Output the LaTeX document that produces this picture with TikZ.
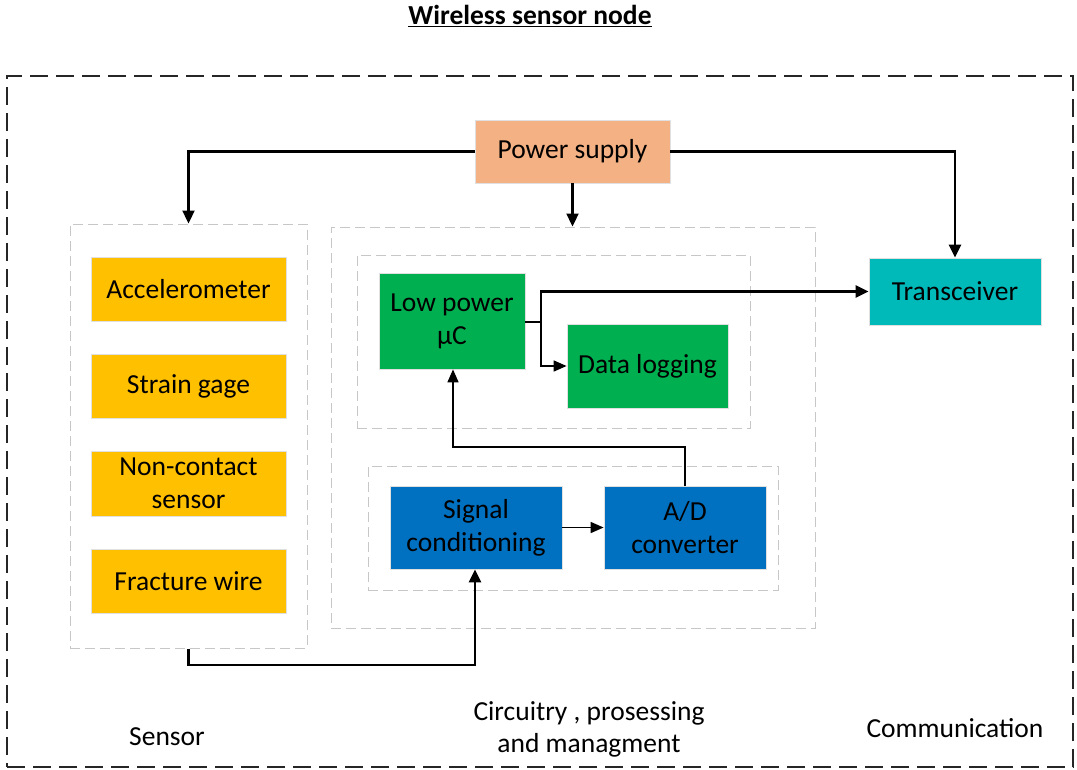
\documentclass[tikz,border=0pt]{standalone}
\usepackage{fontspec}
\setmainfont{Carlito}
\usetikzlibrary{arrows.meta,calc}
\begin{document}
\begin{tikzpicture}[x=1pt,y=-1pt,
  every node/.style={font=\fontsize{27.5}{33}\selectfont},
  box/.style={draw=black!12,line width=0.8pt,inner sep=0pt,align=center,text=black},
  grp/.style={draw=black!22,line width=1pt,dash pattern=on 10pt off 5pt,inner sep=0pt},
  thick arrow/.style={line width=2.3pt,-{Triangle[length=13pt,width=12pt]}},
  thin arrow/.style={line width=1.6pt,-{Triangle[length=13pt,width=11pt]}},
  lbl/.style={align=center,inner sep=0pt}]
\useasboundingbox (0,0) rectangle (1077,769);
% title
\node[lbl,font=\fontsize{27.5}{33}\selectfont\bfseries] (title) at (530,16) {\underline{Wireless sensor node}};
% outer dashed frame
\node[draw=black!85,line width=1.5pt,dash pattern=on 18pt off 8pt,inner sep=0pt,minimum width=1066pt,minimum height=691pt] (frame) at (540,421.5) {};
% groups
\node[grp,minimum width=237pt,minimum height=424pt] (sgrp) at (188.5,436) {};
\node[grp,minimum width=484pt,minimum height=401pt] (cgrp) at (573,427.5) {};
\node[grp,minimum width=393pt,minimum height=173pt] (tgrp) at (553.5,341.5) {};
\node[grp,minimum width=410pt,minimum height=124pt] (bgrp) at (573,528) {};
% boxes
\node[box,fill={rgb,255:red,244;green,177;blue,131},minimum width=195pt,minimum height=63pt] (ps) at (572.5,151.5) {Power supply};
\node[box,fill={rgb,255:red,255;green,192;blue,0},minimum width=195pt,minimum height=64pt] (acc) at (188.5,289) {Accelerometer};
\node[box,fill={rgb,255:red,255;green,192;blue,0},minimum width=195pt,minimum height=64pt] (sg) at (188.5,386) {Strain gage};
\node[box,fill={rgb,255:red,255;green,192;blue,0},minimum width=195pt,minimum height=65pt] (nc) at (188.5,483.5) {Non-contact\\sensor};
\node[box,fill={rgb,255:red,255;green,192;blue,0},minimum width=195pt,minimum height=64pt] (fw) at (188.5,581) {Fracture wire};
\node[box,fill={rgb,255:red,0;green,176;blue,80},minimum width=146pt,minimum height=96pt] (mc) at (452,321) {Low power\\μC};
\node[box,fill={rgb,255:red,0;green,176;blue,80},minimum width=161pt,minimum height=84pt] (dl) at (647.5,366) {Data logging};
\node[box,fill={rgb,255:red,0;green,112;blue,192},minimum width=172pt,minimum height=83pt] (sc) at (476,527.5) {Signal\\conditioning};
\node[box,fill={rgb,255:red,0;green,112;blue,192},minimum width=162pt,minimum height=83pt] (ad) at (685,527.5) {A/D\\converter};
\node[box,fill={rgb,255:red,0;green,186;blue,186},minimum width=172pt,minimum height=67pt] (tr) at (955,291.5) {Transceiver};
% labels
\node[lbl] (lsens) at (167,737) {Sensor};
\node[lbl,font=\fontsize{27.5}{32}\selectfont] (lcirc) at (589,729) {Circuitry , prosessing\\and managment};
\node[lbl] (lcomm) at (955,728) {Communication};
% connectors
\draw[thick arrow] (ps.west) -| (sgrp.north);
\draw[thick arrow] (ps.south) -- (cgrp.north -| ps.south);
\draw[thick arrow] (ps.east) -| (tr.north);
\coordinate (j1) at (541,322);
\draw[line width=2.3pt] (mc.east |- j1) -- (j1);
\draw[thick arrow] (j1) |- (tr.west);
\draw[thin arrow] (j1) |- (dl.west);
\draw[thin arrow] (ad.north) |- (453,447) -- (mc.south -| 453,0);
\draw[thick arrow] (sgrp.south) |- (475,665) -- (sc.south -| 475,0);
\draw[thin arrow] (sc.east) -- (ad.west);
\end{tikzpicture}
\end{document}
